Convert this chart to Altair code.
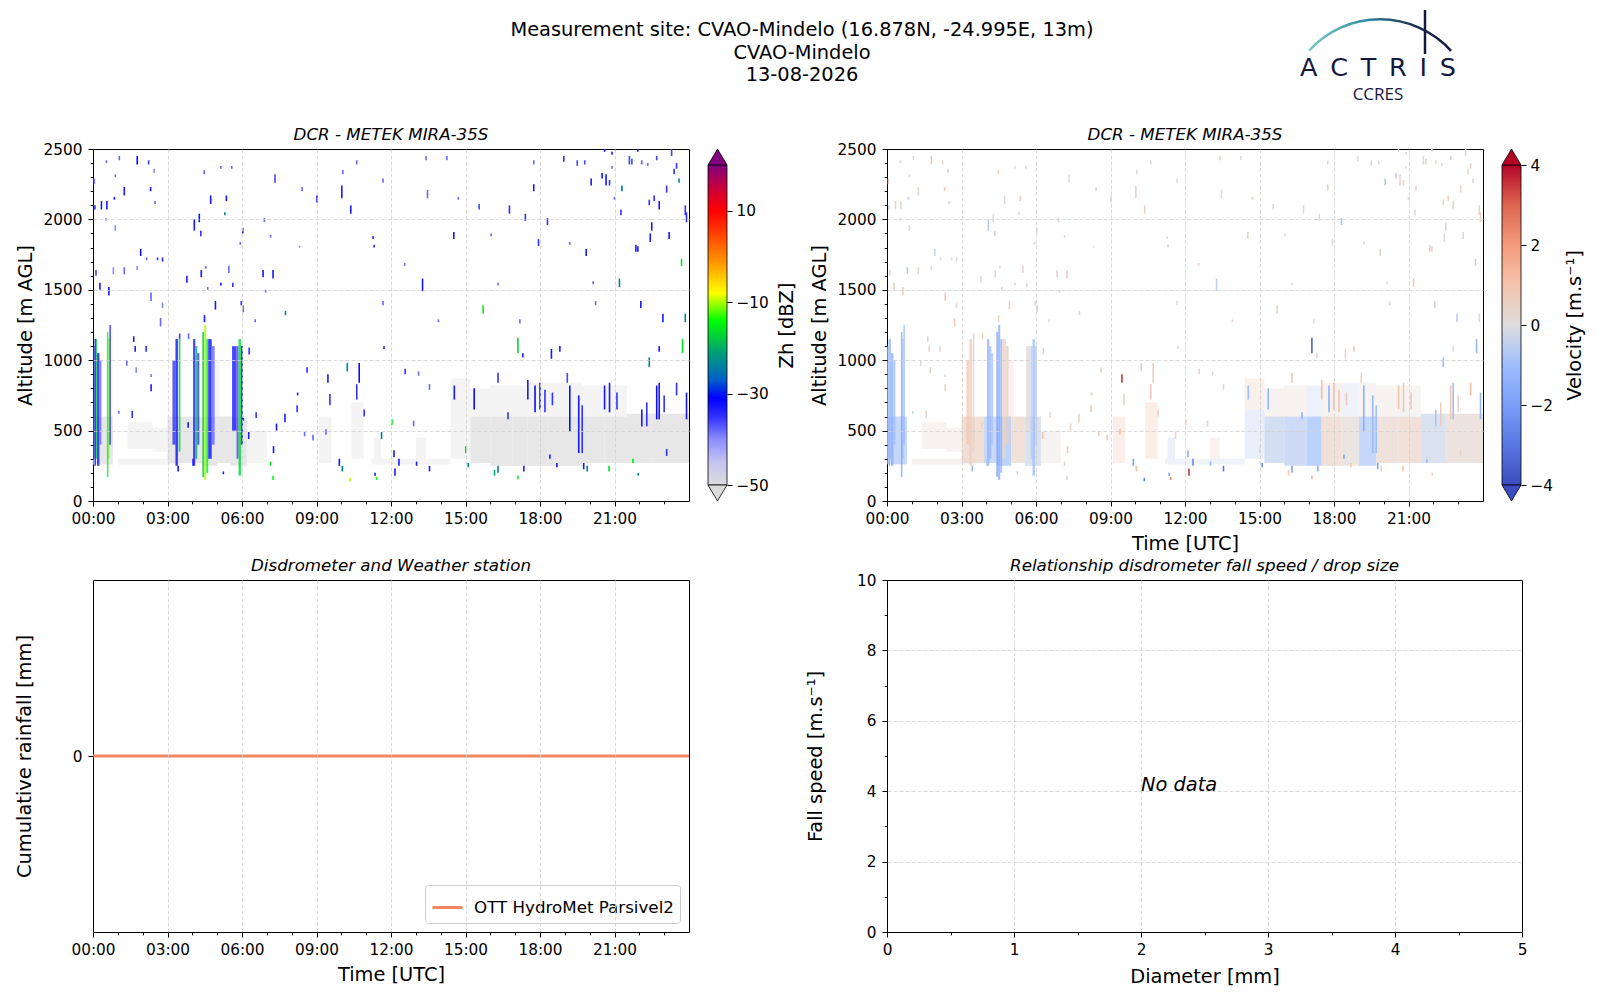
import altair as alt
import pandas as pd

FONT = "DejaVu Sans"
NAVY = "#15183d"

# ---------------- text ----------------
title_lines = ["Measurement site: CVAO-Mindelo (16.878N, -24.995E, 13m)", "CVAO-Mindelo", "13-08-2026"]
radar_title = "DCR - METEK MIRA-35S"
disdro_title = "Disdrometer and Weather station"
fall_title = "Relationship disdrometer fall speed / drop size"
logo_main = "A\u2002C\u2002T\u2002R\u2002I\u2002S"
logo_sub = "CCRES"

# ---------------- axes ticks ----------------
hour_major = [0, 3, 6, 9, 12, 15, 18, 21]
hour_grid = [3, 6, 9, 12, 15, 18, 21]
hour_minor = [0, 1, 2, 3, 4, 5, 6, 7, 8, 9, 10, 11, 12, 13, 14, 15, 16, 17, 18, 19, 20, 21, 22, 23]
alt_major = [0, 500, 1000, 1500, 2000, 2500]
alt_grid = [500, 1000, 1500, 2000]
alt_minor = [0, 100, 200, 300, 400, 500, 600, 700, 800, 900, 1000, 1100, 1200, 1300, 1400, 1500,
             1600, 1700, 1800, 1900, 2000, 2100, 2200, 2300, 2400, 2500]
diam_major = [0, 1, 2, 3, 4, 5]
diam_grid = [1, 2, 3, 4]
diam_minor = [0, 0.5, 1, 1.5, 2, 2.5, 3, 3.5, 4, 4.5, 5]
speed_major = [0, 2, 4, 6, 8, 10]
speed_grid = [2, 4, 6, 8]
speed_minor = [0, 1, 2, 3, 4, 5, 6, 7, 8, 9, 10]

# ---------------- colour maps ----------------
zh_stops = [-50, -45, -40, -35, -31, -27, -21, -14, -8, -2, 5, 10, 15, 20]
zh_colors = ["#dcdcdc", "#c4c4f2", "#8c8cff", "#3030ff", "#0000ff", "#0060c8", "#00a078",
             "#00ff00", "#ffff00", "#ffa000", "#ff4000", "#ff0000", "#c8003c", "#800080"]
zh_ticks = [-50, -30, -10, 10]
vel_stops = [-4, -3, -2, -1, 0, 1, 2, 3, 4]
vel_colors = ["#3b4cc0", "#5977e3", "#7b9ff9", "#9ebeff", "#dddddd", "#f5c4ad", "#f49a7b", "#dd6650", "#b40426"]
vel_ticks = [-4, -2, 0, 2, 4]

# ---------------- radar: low-level clutter blocks ----------------
clut_t0 = [0.00, 1.00, 1.40, 2.40, 3.00, 3.90, 4.40, 5.00, 5.55, 4.90, 6.20, 9.10, 10.40, 11.20, 11.30, 13.00,
           14.40, 14.40, 15.20, 15.20, 16.00, 16.00, 16.90, 16.90, 17.50, 17.50, 18.30, 18.30, 19.00, 19.00,
           19.70, 19.70, 20.60, 20.60, 21.50, 22.50]
clut_t1 = [0.80, 3.60, 2.40, 3.00, 3.90, 4.40, 5.00, 5.55, 6.20, 5.10, 7.00, 9.60, 10.90, 14.40, 11.60, 13.40,
           15.20, 15.20, 16.00, 16.00, 16.90, 16.90, 17.50, 17.50, 18.30, 18.30, 19.00, 19.00, 19.70, 19.70,
           20.60, 20.60, 21.50, 21.50, 22.50, 24.00]
clut_h0 = [260, 260, 370, 350, 270, 270, 250, 270, 250, 600, 270, 270, 300, 260, 300, 300,
           650, 300, 270, 600, 250, 600, 250, 600, 250, 600, 250, 600, 250, 600,
           270, 600, 270, 600, 270, 270]
clut_h1 = [600, 300, 560, 520, 600, 600, 600, 600, 600, 1000, 500, 600, 700, 300, 450, 450,
           870, 650, 600, 800, 600, 820, 600, 820, 600, 840, 600, 840, 600, 840,
           600, 820, 600, 820, 620, 620]
clut_zh = [-50, -50, -50, -50, -50, -50, -50, -50, -50, -50, -50, -50, -50, -50, -50, -50,
           -50, -50, -50, -50, -50, -50, -50, -50, -50, -50, -50, -50, -50, -50,
           -50, -50, -50, -50, -50, -50]
clut_vel = [-0.8, 0.2, 0.3, 0.2, 0.6, -0.7, -1.0, 0.5, -0.3, 0.3, 0.2, 0.8, 1.0, -0.3, -0.5, 0.5,
            0.7, -0.6, -0.5, 0.2, -0.6, 0.3, -1.1, -0.5, 0.5, 0.4, 0.2, -0.3, -0.8, 0.2,
            0.4, 0.3, 0.5, 0.1, -0.3, 0.3]
clut_dense = [1, 0, 0, 0, 1, 1, 1, 1, 1, 0, 0, 0, 0, 0, 0, 0,
              0, 0, 1, 0, 1, 0, 1, 0, 1, 0, 1, 0, 1, 0,
              1, 0, 1, 0, 1, 1]

# ---------------- radar: precipitating / cloud columns ----------------
col_t0 = [0.00, 0.06, 0.12, 0.16, 0.26, 0.56, 0.62, 0.66, 3.20, 3.32, 3.45, 4.03, 4.12, 4.20, 4.40, 4.48,
          4.56, 4.64, 4.78, 5.60, 5.78, 5.86, 5.96]
col_t1 = [0.06, 0.12, 0.16, 0.26, 0.34, 0.62, 0.66, 0.72, 3.32, 3.42, 3.52, 4.12, 4.20, 4.28, 4.48, 4.56,
          4.64, 4.78, 4.90, 5.78, 5.86, 5.96, 6.04]
col_h0 = [300, 250, 300, 250, 400, 170, 300, 400, 400, 250, 350, 250, 300, 400, 170, 150,
          200, 300, 400, 500, 300, 180, 400]
col_h1 = [1100, 1150, 1150, 1050, 1000, 1200, 1150, 1250, 1000, 1150, 1150, 1150, 1100, 1050, 1200, 1250,
          1150, 1150, 1100, 1100, 1100, 1150, 1100]
col_zh = [-33, -30, -18, -33, -38, -15, -12, -33, -35, -32, -18, -33, -20, -35, -18, -10,
          -15, -32, -38, -33, -36, -17, -30]
col_vel = [-1.6, -1.4, -1.2, -1.5, -1.0, -1.8, -1.5, -1.2, 0.9, 0.7, 0.5, -1.4, -1.2, -0.8, -1.8, -1.6,
           -1.3, 0.4, 0.6, 0.1, -0.6, -1.0, -0.5]

# ---------------- radar: isolated returns (time h, base m, top m, Zh, velocity) ----------------
dash_t = [
    0.54, 1.06, 1.78, 2.24, 2.46, 0.06, 0.90, 1.26, 2.32, 0.08, 0.34, 0.56, 0.86, 2.50, 0.52, 0.90, 1.92, 2.16, 2.60, 2.80,
    0.12, 0.82, 1.26, 1.78, 0.28, 0.64, 2.34, 2.80, 2.72, 1.64, 1.70, 2.14, 1.36, 1.74, 2.34, 1.58, 1.04,
    3.78, 4.08, 4.28, 4.34, 4.48, 4.74, 5.15, 5.37, 5.31, 5.59, 6.03, 5.93, 4.36, 4.54, 4.62, 4.93, 5.15, 5.47, 5.63, 5.97,
    6.05, 4.49, 3.85, 3.49, 2.34, 3.83, 3.43, 4.03, 5.25, 6.27, 6.57, 6.05, 6.53, 6.29, 6.85, 7.25, 6.95, 6.90, 7.15, 7.33,
    7.75, 7.73, 7.39, 7.27, 7.15, 7.25, 8.24, 8.32, 8.42, 8.62, 9.02, 8.22, 8.52, 9.38, 8.86,
    9.46, 9.54, 10.02, 10.06, 10.38, 10.24, 10.72, 10.62, 10.92, 10.62, 11.32, 11.28, 11.68, 11.68, 11.72, 12.04, 12.12,
    12.32, 11.36, 11.42, 10.36, 9.92, 10.04, 11.62, 12.57, 13.11, 12.55, 13.27, 13.41, 13.47, 14.53, 14.25, 14.71, 13.55,
    12.91, 13.03, 13.55, 13.91, 12.16,
    15.01, 15.11, 15.55, 15.71, 16.03, 16.31, 16.77, 17.11, 17.31, 17.19, 17.41, 17.75, 17.75, 17.94, 18.30, 18.46, 18.80,
    18.96, 19.20, 19.50, 19.80, 20.06, 20.14, 20.24, 19.86, 20.50, 20.66, 20.80, 20.90, 21.00, 21.20, 21.26, 21.30, 21.60,
    21.70, 21.86, 21.94, 22.06, 22.10, 22.34, 22.40, 22.44, 22.50, 22.60, 22.80, 22.70, 22.95, 23.10, 23.20, 23.30, 23.40,
    23.50, 23.60, 23.70, 23.74, 23.85, 23.85, 23.90, 22.80, 22.40, 20.60, 20.90, 21.94,
    14.55, 15.35, 16.31, 16.71, 17.51, 17.80, 18.00, 18.20, 18.50, 19.10, 19.20, 19.56, 19.70, 20.60, 20.80, 21.10, 22.10,
    22.30, 22.70, 22.80, 23.00, 23.50, 23.90, 16.31, 16.17, 17.11, 17.35, 19.76, 19.90, 20.78, 21.74, 21.96, 18.40, 18.68,
    23.10,
]
dash_h0 = [
    2400, 2420, 2390, 2390, 2330, 2250, 2300, 2170, 2200, 2070, 2070, 2070, 2140, 2110, 1990, 1920, 1740, 1710, 1710, 1700,
    1600, 1610, 1610, 1640, 1500, 1460, 1420, 1370, 1240, 1130, 1060, 1060, 960, 910, 780, 590, 620,
    1550, 1920, 1980, 1880, 2320, 2110, 2360, 2130, 2030, 2360, 1900, 1820, 1590, 1650, 1500, 1360, 1530, 1620, 1520, 1390,
    1340, 1270, 1150, 1150, 880, 520, 210, 250, 190, 440, 590, 570, 1270, 1040, 1590, 1580, 1480, 1980, 1870, 2260,
    1320, 560, 500, 340, 250, 150, 750, 1800, 2200, 910, 2120, 630, 460, 470, 430,
    840, 680, 2150, 2320, 2040, 920, 840, 720, 600, 2390, 1800, 1860, 1390, 2260, 1080, 540, 310,
    250, 180, 150, 140, 250, 210, 440, 900, 890, 1670, 1490, 2420, 2150, 1860, 2420, 2140, 210,
    530, 250, 790, 1270, 180,
    340, 240, 2070, 1330, 1880, 1530, 2040, 1050, 1020, 1260, 1990, 2390, 2200, 1810, 1960, 1010, 1060,
    2410, 1820, 2380, 2390, 2240, 1540, 1390, 1740, 2290, 2240, 2240, 2360, 2140, 1520, 2030, 2200, 2390,
    2390, 1770, 1770, 1370, 2390, 2380, 2100, 1840, 1920, 2130, 2070, 2420, 1270, 2190, 1860, 2450, 2320,
    2360, 2260, 1670, 1050, 2030, 1270, 1980, 1060, 950, 2480, 2460, 2480,
    720, 650, 840, 580, 720, 630, 650, 630, 680, 840, 490, 340, 340, 650, 630, 650, 530,
    530, 580, 580, 630, 750, 580, 200, 180, 155, 210, 225, 210, 210, 270, 180, 300, 240,
    320,
]
dash_h1 = [
    2420, 2450, 2450, 2420, 2360, 2290, 2320, 2230, 2230, 2100, 2130, 2130, 2160, 2130, 2010, 1960, 1790, 1730, 1730, 1730,
    1640, 1660, 1660, 1670, 1550, 1520, 1480, 1410, 1300, 1170, 1100, 1100, 1000, 950, 830, 640, 640,
    1600, 2000, 2040, 1920, 2350, 2170, 2380, 2170, 2050, 2380, 1940, 1840, 1640, 1670, 1520, 1420, 1550, 1670, 1550, 1420,
    1390, 1320, 1190, 1190, 900, 560, 250, 300, 210, 490, 630, 590, 1290, 1090, 1640, 1640, 1500, 2010, 1890, 2320,
    1350, 620, 550, 390, 280, 180, 770, 1810, 2230, 950, 2170, 680, 490, 510, 470,
    900, 760, 2240, 2350, 2100, 980, 980, 830, 650, 2420, 1820, 1880, 1420, 2290, 1100, 580, 360,
    300, 200, 170, 165, 300, 250, 490, 940, 920, 1690, 1580, 2450, 2210, 1910, 2450, 2160, 250,
    570, 280, 830, 1290, 230,
    390, 270, 2110, 1390, 1900, 1550, 2100, 1160, 1050, 1290, 2040, 2420, 2250, 1860, 2010, 1080, 1100,
    2450, 1840, 2420, 2420, 2290, 1560, 1420, 1790, 2330, 2320, 2280, 2380, 2160, 1580, 2070, 2240, 2450,
    2430, 1820, 1810, 1420, 2420, 2400, 2140, 1900, 1980, 2170, 2130, 2450, 1330, 2240, 1910, 2500, 2360,
    2400, 2290, 1720, 1150, 2100, 1330, 2050, 1100, 1020, 2500, 2480, 2500,
    820, 800, 910, 630, 860, 820, 840, 790, 770, 910, 820, 750, 680, 820, 840, 770, 650,
    700, 820, 840, 750, 840, 770, 250, 220, 180, 250, 270, 250, 250, 300, 200, 330, 270,
    370,
]
dash_zh = [
    -38, -38, -30, -36, -40, -40, -38, -33, -33, -35, -33, -33, -33, -38, -40, -40, -32, -38, -35, -35,
    -36, -40, -38, -40, -33, -33, -38, -40, -38, -33, -33, -35, -38, -40, -33, -35, -38,
    -33, -33, -30, -35, -38, -33, -38, -33, -24, -38, -33, -38, -33, -38, -38, -33, -30, -38, -35, -35,
    -38, -33, -38, -36, -38, -33, -33, -33, -33, -33, -35, -33, -38, -35, -33, -33, -38, -38, -38, -36,
    -24, -33, -33, -33, -16, -14, -33, -38, -38, -35, -33, -35, -38, -38, -38,
    -33, -35, -33, -38, -33, -24, -32, -35, -35, -38, -33, -33, -38, -38, -35, -15, -33,
    -33, -33, -14, -10, -33, -24, -24, -35, -38, -38, -33, -38, -38, -33, -38, -38, -33,
    -38, -33, -38, -38, -33,
    -16, -24, -36, -15, -38, -38, -35, -17, -33, -38, -35, -38, -33, -35, -35, -33, -33,
    -35, -38, -36, -36, -33, -38, -38, -33, -30, -33, -35, -38, -38, -24, -35, -25, -36,
    -36, -33, -33, -33, -38, -38, -35, -33, -33, -35, -33, -36, -33, -35, -33, -36, -35,
    -35, -24, -16, -16, -35, -24, -35, -33, -24, -33, -33, -33,
    -33, -32, -35, -35, -33, -32, -33, -35, -35, -36, -32, -33, -35, -33, -33, -35, -33,
    -35, -32, -33, -35, -35, -33, -24, -20, -14, -33, -33, -24, -16, -16, -24, -33, -33,
    -35,
]
dash_vel = [
    0.3, -0.2, 0.5, 0.2, -0.3, 0.4, 0.1, 0.3, 0.9, -0.2, 0.3, 0.2, -0.4, 0.5, 0.2, 0.3, -0.3, 0.3, 0.2, 0.1,
    0.4, -0.6, 0.3, 0.2, 0.6, 0.4, 0.5, 0.3, 0.6, -0.2, 0.3, 0.4, 0.2, 0.3, 0.5, 0.4, -0.3,
    0.3, -0.6, 0.2, 0.3, 0.4, 0.3, 0.2, 0.4, 0.3, 0.1, 0.5, 0.3, 0.4, 0.2, 0.3, 0.6, 0.4, 0.2, 0.3, 0.4,
    -0.3, 0.5, 0.7, 0.6, 0.3, 0.4, -1.2, -0.8, -0.5, 0.8, 0.3, 0.5, 0.2, 0.4, 0.3, 0.6, 0.2, 0.3, 0.2, 0.1,
    0.4, 0.5, 0.3, 0.7, 0.5, 0.3, 0.9, 0.2, 0.3, 0.4, 0.2, 1.0, 0.5, 1.2, 0.6,
    3.5, 0.4, 0.3, 0.2, 0.5, 0.3, 0.6, 0.9, 0.4, 0.2, -0.4, 0.3, 0.2, 0.3, 0.2, 0.5, -1.5,
    -2.5, -2.0, 2.5, -2.8, -2.0, 1.2, 0.3, 0.4, 0.3, 0.6, -0.4, 0.5, 0.3, 0.4, 0.3, 0.5, -3.0,
    0.4, -1.0, 0.3, 0.5, 3.5,
    0.4, -2.5, 0.2, 0.5, 0.3, 0.4, 0.3, -3.5, 0.5, 0.3, 0.2, 0.3, 0.4, 0.2, -0.8, 0.3, 0.4,
    0.2, 0.3, 0.4, 0.2, -0.6, 0.3, 0.2, 0.3, -0.4, 0.2, 0.3, 0.1, 0.3, 0.5, 0.2, 0.3, 0.2,
    0.3, 0.2, 0.4, 0.3, 0.2, 0.4, 0.3, 0.2, 0.3, 0.5, 0.2, 0.3, -0.5, 0.3, 0.2, 0.3, 0.2,
    0.4, 0.3, -0.4, -1.2, 0.3, 0.2, 0.4, 0.3, -1.0, 0.2, 0.3, 0.2,
    -1.0, -1.2, 0.8, -1.5, 1.0, -1.5, 1.2, 1.0, 0.8, 0.6, -1.5, -1.2, -1.0, 1.0, 0.9, 0.8, -0.8,
    0.6, 1.0, -1.0, 0.5, 1.2, -1.2, -2.0, 1.0, 1.5, -1.5, -2.0, 0.5, 1.0, -1.0, 0.5, -2.0, 1.0,
    0.5,
]

# ---------------- disdrometer ----------------
rain_label = "OTT HydroMet Parsivel2"
rain_color = "#f2875f"
rain_time = [0, 6, 12, 18, 24]
rain_mm = [0, 0, 0, 0, 0]
nodata_d = [2]
nodata_v = [4]
nodata_txt = ["No data"]

# ---------------- frames ----------------
clut_df = pd.DataFrame({"t0": clut_t0, "t1": clut_t1, "h0": clut_h0, "h1": clut_h1,
                        "zh": clut_zh, "vel": clut_vel, "dense": clut_dense})
col_df = pd.DataFrame({"t0": col_t0, "t1": col_t1, "h0": col_h0, "h1": col_h1, "zh": col_zh, "vel": col_vel})
dash_df = pd.DataFrame({"t": dash_t, "h0": dash_h0, "h1": dash_h1, "zh": dash_zh, "vel": dash_vel})
rain_df = pd.DataFrame({"t": rain_time, "mm": rain_mm, "src": [rain_label] * len(rain_time)})
nodata_df = pd.DataFrame({"d": nodata_d, "v": nodata_v, "txt": nodata_txt})
one = pd.DataFrame({"k": [0]})

W, H = 596, 352
W_BR = 635
CB_X0, CB_X1 = W + 19, W + 38
TIME_EXPR = "(datum.value < 10 ? '0' : '') + datum.value + ':00'"
MINUS_EXPR = "replace(toString(datum.value), '-', '\u2212')"

x_time = alt.Scale(domain=[0, 24], nice=False, zero=False)
y_alt = alt.Scale(domain=[0, 2500], nice=False, zero=False)


def sub_title(text, width):
    df = pd.DataFrame({"txt": [text]})
    return alt.Chart(df).mark_text(font=FONT, fontSize=16.7, fontStyle="italic", align="center",
                                   baseline="alphabetic", color="black").encode(
        x=alt.value(width / 2), y=alt.value(-9), text="txt:N")


def bottom_axis(values, expr=None, title=None, title_x=W / 2, title_y=42):
    kw = dict(orient="bottom", values=values, grid=False, tickSize=5, labelPadding=5, zindex=1)
    if expr:
        kw["labelExpr"] = expr
    if title:
        kw.update(title=title, titleX=title_x, titleY=title_y, titleBaseline="middle",
                  titleAlign="center", titleAngle=0)
    else:
        kw["title"] = None
    return alt.Axis(**kw)


def left_axis(values, title, title_x=-68):
    return alt.Axis(orient="left", values=values, grid=False, tickSize=5, labelPadding=6, zindex=1, format="d",
                    title=title, titleX=title_x, titleY=H / 2, titleAngle=270,
                    titleBaseline="middle", titleAlign="center")


def minor_axis(orient, values):
    return alt.Axis(orient=orient, values=values, labels=False, tickSize=2.8, grid=False, title=None, zindex=1)


def grid_axis(orient, values):
    return alt.Axis(orient=orient, values=values, labels=False, ticks=False, grid=True, title=None, zindex=1)


def colorbar_layers(vmin, vmax, pad, stops, colors, over, under, ticks, title, title_x):
    df = pd.DataFrame({"lo": [vmin], "hi": [vmax]})
    span = vmax - vmin
    grad = alt.LinearGradient(
        gradient="linear", x1=0, x2=0, y1=1, y2=0,
        stops=[alt.GradientStop(offset=(s - vmin) / span, color=c) for s, c in zip(stops, colors)])
    ysc = alt.Scale(domain=[vmin - pad, vmax + pad], nice=False, zero=False)
    body = alt.Chart(df).mark_rect(fill=grad, stroke="black", strokeWidth=0.8).encode(
        x=alt.value(CB_X0), x2=alt.value(CB_X1),
        y=alt.Y("lo:Q", scale=ysc, axis=alt.Axis(
            orient="right", offset=CB_X1 - W, values=ticks, labelExpr=MINUS_EXPR, tickSize=5,
            labelPadding=4, grid=False, title=title, titleX=title_x, titleY=H / 2, titleAngle=270,
            titleBaseline="middle", titleAlign="center", zindex=1)),
        y2="hi:Q",
    )
    tri_c = pad / 2
    cx = (CB_X0 + CB_X1) / 2
    up = alt.Chart(one).mark_point(shape="M -1 0.84 L 0 -0.84 L 1 0.84 Z", size=361, filled=True,
                                   fill=over, stroke="black", strokeWidth=0.8, opacity=1).encode(
        x=alt.value(cx), y=alt.YDatum(vmax + tri_c, scale=ysc, axis=None))
    down = alt.Chart(one).mark_point(shape="M -1 -0.84 L 0 0.84 L 1 -0.84 Z", size=361, filled=True,
                                     fill=under, stroke="black", strokeWidth=0.8, opacity=1).encode(
        x=alt.value(cx), y=alt.YDatum(vmin - tri_c, scale=ysc, axis=None))
    return [body, up, down]


def radar_panel(field, stops, colors, xtitle, cb_layers, extra):
    cscale = alt.Scale(domain=stops, range=colors, clamp=True, interpolate="rgb")
    col = alt.Color(f"{field}:Q", scale=cscale, legend=None)
    clutter = alt.Chart(clut_df).mark_rect(clip=True).encode(
        x=alt.X("t0:Q", scale=x_time, axis=minor_axis("bottom", hour_minor)), x2="t1:Q",
        y=alt.Y("h0:Q", scale=y_alt, axis=minor_axis("left", alt_minor)), y2="h1:Q",
        color=col,
        opacity=alt.Opacity("dense:Q", scale=alt.Scale(domain=[0, 1], range=[0.3, 0.68]), legend=None),
    )
    columns = alt.Chart(col_df).mark_rect(clip=True, opacity=0.8).encode(
        x=alt.X("t0:Q", scale=x_time, axis=grid_axis("bottom", hour_grid)), x2="t1:Q",
        y=alt.Y("h0:Q", scale=y_alt, axis=grid_axis("left", alt_grid)), y2="h1:Q",
        color=col,
    )
    dashes = alt.Chart(dash_df).mark_rule(clip=True, strokeWidth=1.6).encode(
        x=alt.X("t:Q", scale=x_time, axis=bottom_axis(hour_major, TIME_EXPR, xtitle)),
        y=alt.Y("h0:Q", scale=y_alt, axis=left_axis(alt_major, "Altitude [m AGL]")), y2="h1:Q",
        color=col,
    )
    layers = [clutter, columns, dashes, sub_title(radar_title, W)] + cb_layers + extra
    return alt.layer(*layers).resolve_scale(y="independent").resolve_axis(
        x="independent", y="independent").properties(width=W, height=H)


# ---- decorations (figure title, logo) ----
title_df = pd.DataFrame({"txt": ["\n".join(title_lines)]})
main_title = alt.Chart(title_df).mark_text(
    font=FONT, fontSize=19.4, align="center", baseline="alphabetic", lineBreak="\n", lineHeight=22.5,
    color="black").encode(x=alt.value(709), y=alt.value(-113), text="txt:N")

logo_df = pd.DataFrame({"a": [logo_main], "b": [logo_sub]})
logo_a = alt.Chart(logo_df).mark_text(font=FONT, fontSize=25.5, align="center", baseline="alphabetic",
                                      color=NAVY).encode(x=alt.value(491), y=alt.value(-73), text="a:N")
logo_b = alt.Chart(logo_df).mark_text(font="Open Sans", fontSize=17, align="center", baseline="alphabetic",
                                      color=NAVY).encode(x=alt.value(491), y=alt.value(-49), text="b:N")
arc_grad = alt.LinearGradient(gradient="linear", x1=0, x2=1, y1=0, y2=0, stops=[
    alt.GradientStop(offset=0, color="#7ccbc6"), alt.GradientStop(offset=0.4, color="#2f8da3"),
    alt.GradientStop(offset=0.7, color="#1b3558"), alt.GradientStop(offset=1, color=NAVY)])
logo_arc = alt.Chart(one).mark_arc(radius=97, radius2=94.5, theta=5.45, theta2=7.12, fill=arc_grad).encode(
    x=alt.value(493), y=alt.value(-34))
logo_bar = alt.Chart(one).mark_rule(color=NAVY, strokeWidth=2.5).encode(
    x=alt.value(538), y=alt.value(-139), y2=alt.value(-95))

cb_zh = colorbar_layers(-50, 20, 3.5, zh_stops, zh_colors, "#800080", "#dcdcdc", zh_ticks, "Zh [dBZ]", 59)
cb_vel = colorbar_layers(-4, 4, 0.4, vel_stops, vel_colors, "#b40426", "#3b4cc0", vel_ticks,
                         "Velocity [m.s\u207b\u00b9]", 53)

tl = radar_panel("zh", zh_stops, zh_colors, None, cb_zh, [main_title])
tr = radar_panel("vel", vel_stops, vel_colors, "Time [UTC]", cb_vel, [logo_arc, logo_bar, logo_a, logo_b])

# ---- bottom left: cumulative rainfall ----
rain_y = alt.Scale(domain=[-1, 1], nice=False, zero=False)
rain_minor = alt.Chart(rain_df).mark_line(opacity=0).encode(
    x=alt.X("t:Q", scale=x_time, axis=minor_axis("bottom", hour_minor)),
    y=alt.Y("mm:Q", scale=rain_y, axis=None))
rain_grid = alt.Chart(rain_df).mark_line(opacity=0).encode(
    x=alt.X("t:Q", scale=x_time, axis=grid_axis("bottom", hour_grid)),
    y=alt.Y("mm:Q", scale=rain_y, axis=None))
rain_line = alt.Chart(rain_df).mark_line(strokeWidth=3).encode(
    x=alt.X("t:Q", scale=x_time, axis=bottom_axis(hour_major, TIME_EXPR, "Time [UTC]")),
    y=alt.Y("mm:Q", scale=rain_y, axis=left_axis([0], "Cumulative rainfall [mm]", -69)),
    color=alt.Color("src:N", scale=alt.Scale(domain=[rain_label], range=[rain_color]),
                    legend=alt.Legend(title=None, orient="bottom-right", offset=9, symbolType="stroke",
                                      symbolSize=900, symbolStrokeWidth=3, labelFont=FONT,
                                      labelFontSize=16.7, labelColor="black", labelOffset=10, labelLimit=0,
                                      strokeColor="#cccccc", fillColor="white", padding=6,
                                      cornerRadius=3)))
bl = alt.layer(rain_minor, rain_grid, rain_line, sub_title(disdro_title, W)).resolve_axis(
    x="independent", y="independent").properties(width=W, height=H)

# ---- bottom right: fall speed vs diameter ----
d_scale = alt.Scale(domain=[0, 5], nice=False, zero=False)
v_scale = alt.Scale(domain=[0, 10], nice=False, zero=False)
fs_minor = alt.Chart(nodata_df).mark_point(opacity=0).encode(
    x=alt.X("d:Q", scale=d_scale, axis=minor_axis("bottom", diam_minor)),
    y=alt.Y("v:Q", scale=v_scale, axis=minor_axis("left", speed_minor)))
fs_grid = alt.Chart(nodata_df).mark_point(opacity=0).encode(
    x=alt.X("d:Q", scale=d_scale, axis=grid_axis("bottom", diam_grid)),
    y=alt.Y("v:Q", scale=v_scale, axis=grid_axis("left", speed_grid)))
fs_text = alt.Chart(nodata_df).mark_text(font=FONT, fontSize=19.4, fontStyle="italic", align="left",
                                         baseline="alphabetic", color="black").encode(
    x=alt.X("d:Q", scale=d_scale, axis=bottom_axis(diam_major, None, "Diameter [mm]", W_BR / 2, 44)),
    y=alt.Y("v:Q", scale=v_scale, axis=left_axis(speed_major, "Fall speed [m.s\u207b\u00b9]", -72)),
    text="txt:N")
br = alt.layer(fs_minor, fs_grid, fs_text, sub_title(fall_title, W_BR)).resolve_axis(
    x="independent", y="independent").properties(width=W_BR, height=H)

chart = alt.concat(
    tl, tr, bl, br,
    columns=2, spacing={"row": 79, "column": 198}, bounds="flush", align="each",
).resolve_scale(
    color="independent", x="independent", y="independent", opacity="independent"
).properties(
    padding={"left": 5, "top": 0, "right": 5, "bottom": 5}
).configure(font=FONT).configure_view(
    stroke="black", strokeWidth=1
).configure_axis(
    labelFont=FONT, labelFontSize=15.3, labelColor="black", tickColor="black", tickWidth=1,
    domain=False, gridColor="#d0d0d0", gridDash=[4, 2], gridWidth=0.8,
    titleFont=FONT, titleFontSize=19.4, titleFontWeight="normal", titleColor="black",
    labelFlush=False, labelOverlap=False, labelBound=False,
)

chart.save("out.html", embed_options={"renderer": "svg", "actions": False})
